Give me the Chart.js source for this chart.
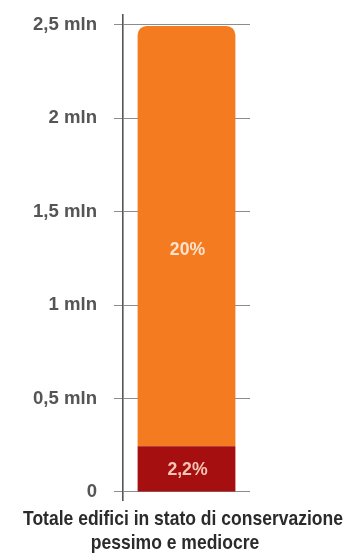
<!DOCTYPE html>
<html>
<head>
<meta charset="utf-8">
<script src="https://cdn.jsdelivr.net/npm/chart.js@4"></script>
<style>
  html, body { margin: 0; padding: 0; background: #fff; }
  #wrap { width: 352px; height: 555px; }
</style>
</head>
<body>
<div id="wrap"><canvas id="chart"></canvas></div>
<script>
// dati (milioni di edifici)
const categories = ['Totale edifici in stato di conservazione pessimo e mediocre'];
const titleLines = ['Totale edifici in stato di conservazione', 'pessimo e mediocre'];
const pessimo = [0.245];
const mediocre = [2.25];
const percentLabels = ['2,2%', '20%'];
const yTicks = [0, 0.5, 1, 1.5, 2, 2.5];

const FONT = "'Liberation Sans', Arial, sans-serif";

const fmtTick = v => v === 0 ? '0' : String(v).replace('.', ',') + ' mln';

// testo "stretto" come nell'originale (nessun font narrow installato)
function narrowText(ctx, text, x, y, font, color, align, sx) {
    ctx.save();
    ctx.font = font;
    ctx.fillStyle = color;
    ctx.textBaseline = 'middle';
    ctx.textAlign = align;
    ctx.translate(x, y);
    ctx.scale(sx, 1);
    ctx.fillText(text, 0, 0);
    ctx.restore();
}

const textPlugin = {
    id: 'textPlugin',
    afterDatasetsDraw(chart) {
        const ctx = chart.ctx;
        // percentuali sui segmenti (quella in alto sta un po' sotto il centro)
        const colors = ['#f6c4b4', '#fde2cc'];
        const shift = [1, 14];
        chart.data.datasets.forEach((ds, i) => {
            const bar = chart.getDatasetMeta(i).data[0];
            narrowText(ctx, percentLabels[i], bar.x + 1, (bar.y + bar.base) / 2 + shift[i],
                'bold 18px ' + FONT, colors[i], 'center', 0.98);
        });
    },
    afterDraw(chart) {
        const ctx = chart.ctx;
        const y = chart.scales.y;
        const tickFont = 'bold 18px ' + FONT;
        ctx.font = tickFont;
        const sxTick = 64 / ctx.measureText(fmtTick(2.5)).width;
        yTicks.forEach(v => {
            narrowText(ctx, fmtTick(v), y.right - 26, y.getPixelForValue(v),
                tickFont, '#555', 'right', sxTick);
        });
        // titolo asse x
        const titleFont = 'bold 21px ' + FONT;
        ctx.font = titleFont;
        const sxTitle = 320 / ctx.measureText(titleLines[0]).width;
        const bottom = chart.chartArea.bottom;
        narrowText(ctx, titleLines[0], 183, bottom + 19, titleFont, '#2b2b2b', 'center', sxTitle);
        narrowText(ctx, titleLines[1], 175, bottom + 43, titleFont, '#2b2b2b', 'center', sxTitle);
    }
};

new Chart(document.getElementById('chart'), {
    type: 'bar',
    data: {
        labels: categories,
        datasets: [{
            label: 'pessimo',
            data: pessimo,
            backgroundColor: '#a50f10',
            barPercentage: 0.77,
            categoryPercentage: 1
        }, {
            label: 'mediocre',
            data: mediocre,
            backgroundColor: '#f47b20',
            borderRadius: { topLeft: 9, topRight: 9 },
            borderSkipped: false,
            barPercentage: 0.77,
            categoryPercentage: 1
        }]
    },
    options: {
        responsive: true,
        maintainAspectRatio: false,
        animation: false,
        layout: { padding: { top: 15, right: 102, left: 0, bottom: 0 } },
        plugins: {
            legend: { display: false },
            tooltip: { enabled: false }
        },
        scales: {
            x: {
                stacked: true,
                border: { display: false },
                grid: { display: false },
                ticks: { display: false },
                afterFit: s => { s.height = 55; }
            },
            y: {
                stacked: true,
                min: -0.043,
                max: 2.5535,
                afterBuildTicks: s => { s.ticks = yTicks.map(v => ({ value: v })); },
                border: { display: true, color: '#555', width: 1.6 },
                grid: { color: '#8c8c8c', lineWidth: 1, tickLength: 9 },
                ticks: { display: false },
                afterFit: s => { s.width = 123; }
            }
        }
    },
    plugins: [textPlugin]
});
</script>
</body>
</html>
